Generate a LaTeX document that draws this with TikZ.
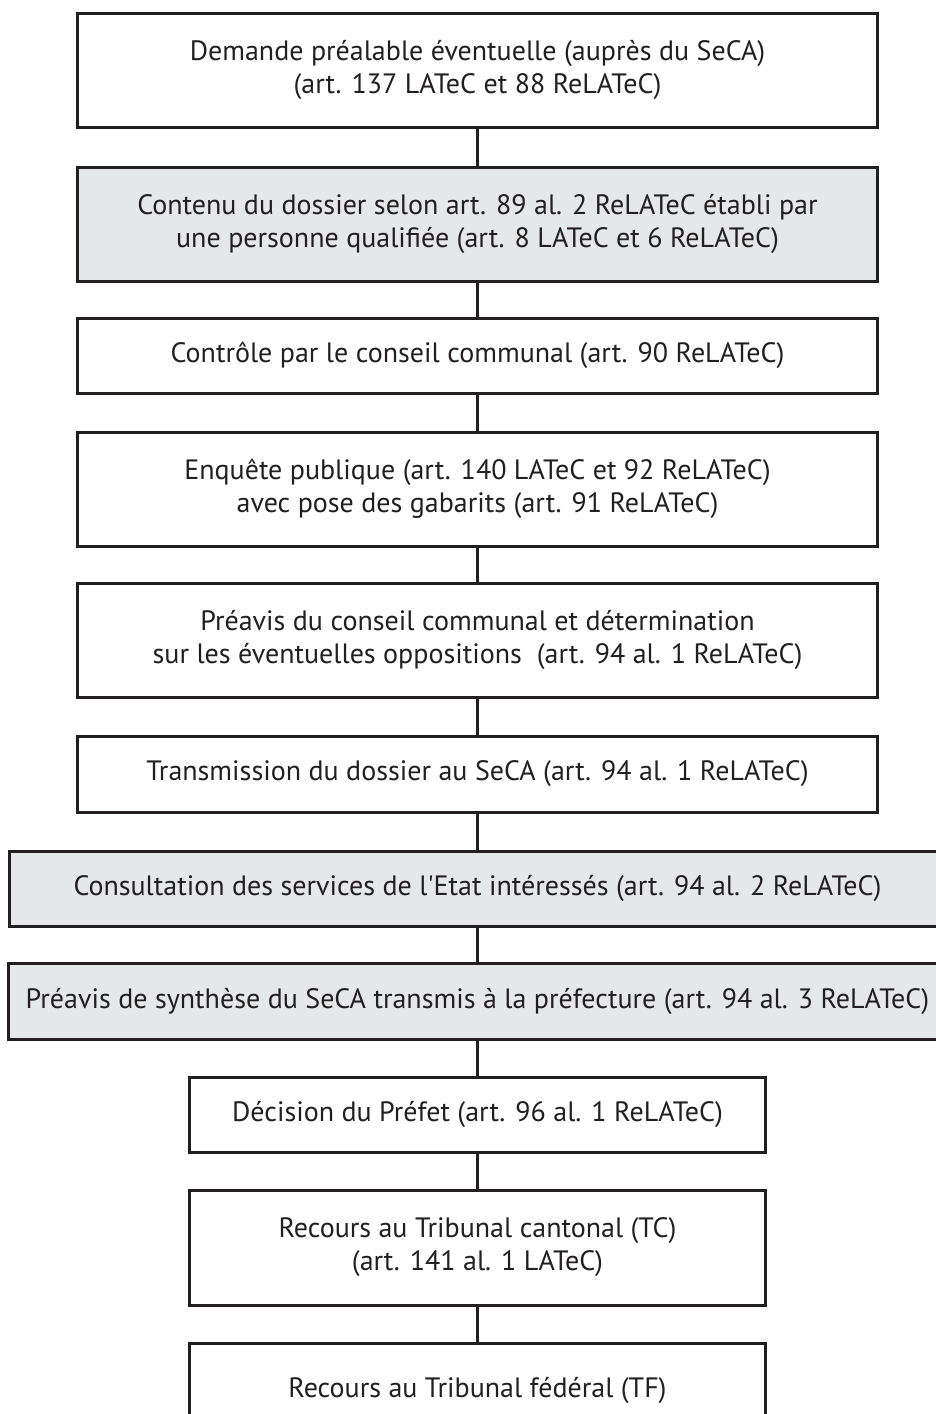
\documentclass[tikz,border=0pt]{standalone}
\usepackage{fontspec}
\setmainfont{PT Sans}
\definecolor{boxgray}{HTML}{E6E7E8}
\definecolor{ink}{HTML}{231F20}
\begin{document}
\begin{tikzpicture}[x=1pt,y=-1pt,
  stepbox/.style={draw=ink, line width=3pt, fill=white, inner sep=0pt, align=center,
    font=\fontsize{28}{33}\selectfont, text=ink},
  graybox/.style={stepbox, fill=boxgray},
  link/.style={draw=ink, line width=3pt}]
\useasboundingbox (0,0) rectangle (936,1414);
\clip (0,0) rectangle (936,1414);
\node[stepbox, minimum width=800pt, minimum height=114pt] (b1) at (477.5,70)
  {Demande préalable éventuelle (auprès du SeCA)\\(art. 137 LATeC et 88 ReLATeC)};
\node[graybox, minimum width=800pt, minimum height=114pt] (b2) at (477.5,224)
  {Contenu du dossier selon art. 89 al. 2 ReLATeC établi par\\une personne qualifiée (art. 8 LATeC et 6 ReLATeC)};
\node[stepbox, minimum width=800pt, minimum height=75pt] (b3) at (477.5,355.5)
  {Contrôle par le conseil communal (art. 90 ReLATeC)};
\node[stepbox, minimum width=800pt, minimum height=114pt] (b4) at (477.5,489)
  {Enquête publique (art. 140 LATeC et 92 ReLATeC)\\avec pose des gabarits (art. 91 ReLATeC)};
\node[stepbox, minimum width=800pt, minimum height=114pt] (b5) at (477.5,640)
  {Préavis du conseil communal et détermination\\sur les éventuelles oppositions\ \ (art. 94 al. 1 ReLATeC)};
\node[stepbox, minimum width=800pt, minimum height=76pt] (b6) at (477.5,774)
  {Transmission du dossier au SeCA (art. 94 al. 1 ReLATeC)};
\node[graybox, minimum width=937pt, minimum height=75pt] (b7) at (477.5,888.5)
  {Consultation des services de l\textquotesingle Etat intéressés (art. 94 al. 2 ReLATeC)};
\node[graybox, minimum width=939pt, minimum height=76pt] (b8) at (477.5,1001)
  {Préavis de synthèse du SeCA transmis à la préfecture (art. 94 al. 3 ReLATeC)};
\node[stepbox, minimum width=576pt, minimum height=75pt] (b9) at (477.5,1114.5)
  {Décision du Préfet (art. 96 al. 1 ReLATeC)};
\node[stepbox, minimum width=576pt, minimum height=115pt] (b10) at (477.5,1247.5)
  {Recours au Tribunal cantonal (TC)\\(art. 141 al. 1 LATeC)};
\node[stepbox, minimum width=576pt, minimum height=94pt] (b11) at (477.5,1390)
  {Recours au Tribunal fédéral (TF)};
\draw[link] (b1.south) -- (b2.north);
\draw[link] (b2.south) -- (b3.north);
\draw[link] (b3.south) -- (b4.north);
\draw[link] (b4.south) -- (b5.north);
\draw[link] (b5.south) -- (b6.north);
\draw[link] (b6.south) -- (b7.north);
\draw[link] (b7.south) -- (b8.north);
\draw[link] (b8.south) -- (b9.north);
\draw[link] (b9.south) -- (b10.north);
\draw[link] (b10.south) -- (b11.north);
\end{tikzpicture}
\end{document}
